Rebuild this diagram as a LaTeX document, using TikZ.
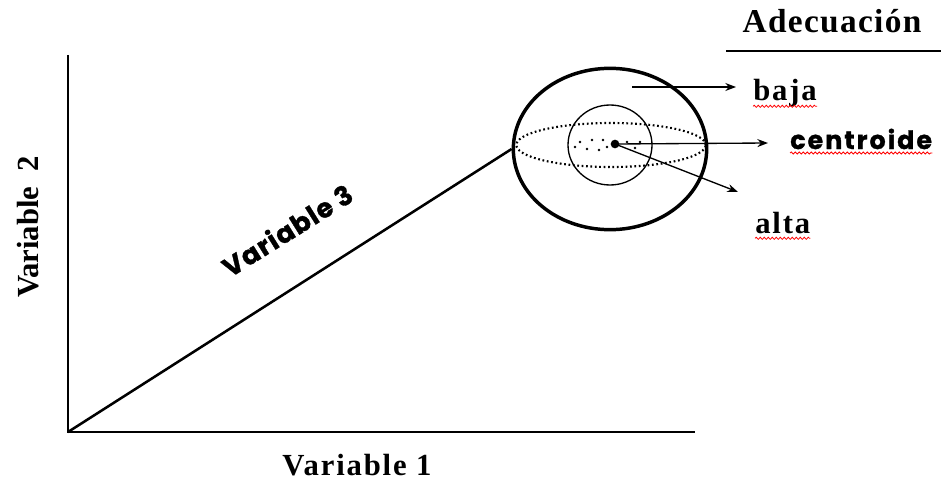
\documentclass[tikz,border=0pt]{standalone}
\usepackage{fontspec}
\setmainfont{Liberation Serif}
\newfontfamily\gothic{Poppins}
\usetikzlibrary{arrows.meta,decorations.pathmorphing,shapes.geometric}
\tikzset{
  axis/.style={line width=1.9pt},
  outer/.style={draw, ellipse, line width=2.6pt, inner sep=0pt},
  thinell/.style={draw, ellipse, line width=1pt, inner sep=0pt},
  dotell/.style={draw, ellipse, inner sep=0pt, line width=1.6pt, dash pattern=on 1.3pt off 2pt},
  arr/.style={line width=1pt, -{Stealth[length=8pt,width=6pt]}},
  serlab/.style={font=\fontsize{23}{25}\selectfont\bfseries\addfontfeature{LetterSpace=6}, inner sep=0pt},
  gotlab/.style={font=\gothic\fontsize{19}{21}\selectfont\bfseries\addfontfeature{LetterSpace=8,FakeBold=1.2}, inner sep=0pt},
  squig/.style={red, line width=0.6pt, decorate, decoration={snake, amplitude=0.8pt, segment length=3pt}},
  pt/.style={circle, fill=black, inner sep=0pt, minimum size=2pt}
}
\begin{document}
\begin{tikzpicture}[x=0.75pt,y=-0.75pt]
\useasboundingbox (0,0) rectangle (941,481);
% axes
\coordinate (O) at (68,432);
\coordinate (Ytop) at (68,55);
\coordinate (Xend) at (695,432);
\draw[axis] (Ytop) -- (O) -- (Xend);
% sphere
\node[outer, minimum width=145pt, minimum height=121pt] (sph) at (610,149) {};
\node[dotell, minimum width=142pt, minimum height=33pt] (eq) at (611,145) {};
\node[thinell, minimum width=63pt, minimum height=60pt] (core) at (610,145) {};
\node[circle, fill=black, inner sep=0pt, minimum size=6.5pt] (c) at (615,144) {};
% scattered dots
\foreach \p in {(575,147),(580,142),(587,149),(592,140),(599,150),(603,140),(607,147),(627,142),(635,148),(640,142)}
  \node[pt] at \p {};
% diagonal
\draw[axis] (O) -- (sph.west);
% labels
\node[serlab, font=\fontsize{25}{27}\selectfont\bfseries\addfontfeature{LetterSpace=4}, anchor=base] (adec) at (832,33) {Adecuación};
\coordinate (ul1) at (726,51);
\coordinate (ul2) at (941,51);
\draw[line width=1.4pt] (ul1) -- (ul2);
\node[serlab, anchor=base west] (baja) at (753,101) {baja};
\node[gotlab, anchor=base west] (centroide) at (790,149) {centroide};
\node[serlab, anchor=base west] (alta) at (755,233) {alta};
\node[serlab, anchor=base] (v1) at (357,475) {Variable 1};
\node[serlab, font=\fontsize{23}{25}\selectfont\bfseries, rotate=90] (v2) at (28,227) {Variable\ \ 2};
\node[gotlab, font=\gothic\fontsize{20}{22}\selectfont\bfseries\addfontfeature{LetterSpace=4,FakeBold=1.2}, rotate=32] (v3) at (287,230) {Variable 3};
% arrows
\coordinate (bs) at (632,87);
\coordinate (be) at (736,87);
\coordinate (ce) at (768,143);
\coordinate (ae) at (738,192);
\draw[arr] (c.center) -- (ce);
\draw[arr] (bs) -- (be);
\draw[arr] (c.center) -- (ae);
% spell-check squiggles
\draw[squig] ([yshift=-4pt]baja.base west) -- ([yshift=-4pt]baja.base east);
\draw[squig] ([yshift=-3pt]centroide.base west) -- ([yshift=-3pt]centroide.base east);
\draw[squig] ([yshift=-4pt]alta.base west) -- ([yshift=-4pt]alta.base east);
\end{tikzpicture}
\end{document}
